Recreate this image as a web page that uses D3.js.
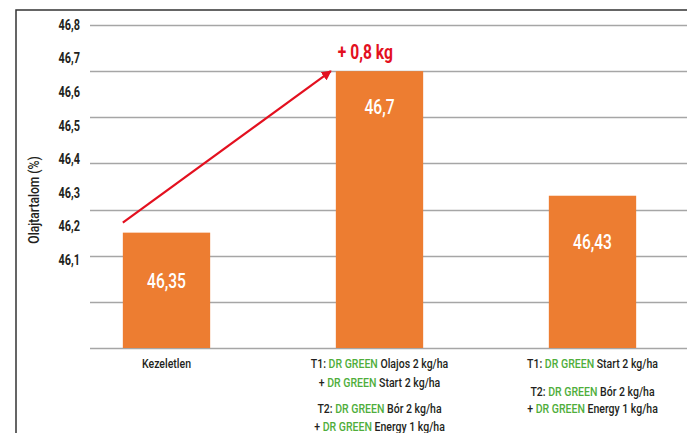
<!DOCTYPE html>
<html>
<head lang="hu">
  <meta charset="utf-8">
  <title>Olajtartalom</title>
  <script src="https://d3js.org/d3.v7.min.js" charset="utf-8"></script>
  <style>
    body { margin: 0; background: #fff; }
    text { font-family: Roboto, "DejaVu Sans", sans-serif; }
  </style>
</head>
<body>
  <script>

    // data
    var categories = ["Kezeletlen", "Olajos+Start", "Start"];
    var values = [46.35, 46.7, 46.43];
    var valueLabels = ["46,35", "46,7", "46,43"];
    var yTicks = [46.1, 46.2, 46.3, 46.4, 46.5, 46.6, 46.7, 46.8];
    var yTitle = "Olajtartalom (%)";
    var gainLabel = "+ 0,8 kg";

    // x labels: each line is a list of [text, isGreen]
    var xLabelLines = [
      [
        [["Kezeletlen", false]]
      ],
      [
        [["T1: ", false], ["DR GREEN", true], [" Olajos 2 kg/ha", false]],
        [["+ ", false], ["DR GREEN", true], [" Start 2 kg/ha", false]],
        [["T2: ", false], ["DR GREEN", true], [" Bór 2 kg/ha", false]],
        [["+ ", false], ["DR GREEN", true], [" Energy 1 kg/ha", false]]
      ],
      [
        [["T1: ", false], ["DR GREEN", true], [" Start 2 kg/ha", false]],
        [["T2: ", false], ["DR GREEN", true], [" Bór 2 kg/ha", false]],
        [["+ ", false], ["DR GREEN", true], [" Energy 1 kg/ha", false]]
      ]
    ];
    var lineOffsets = [
      [0],
      [0, 19, 45, 63],
      [0, 28, 45]
    ];

    var width = 687;
    var height = 433;
    var orange = "#ed7d31";
    var green = "#4fae3c";
    var red = "#e3101f";
    var dark = "#231f20";
    var squeeze = 0.78; // the original uses a condensed face

    var svg = d3.select("body")
      .append("svg")
      .attr("width", width)
      .attr("height", height);

    // condensed text: a group placed at (px,py), squeezed horizontally
    function label(px, py) {
      return svg.append("g")
        .attr("transform", "translate(" + px + "," + py + ") scale(" + squeeze + ",1)")
        .append("text")
          .attr("dy", "0.35em");
    }

    var x = d3.scaleBand()
      .domain(categories)
      .range([60, 699])
      .paddingInner(0.59)
      .paddingOuter(0.295);

    // gridlines and bars share this scale
    var y = d3.scaleLinear()
      .domain([46.1, 46.8])
      .range([348, 25]);

    // the tick labels in the original sit on their own, tighter spacing
    var yLab = d3.scaleLinear()
      .domain([46.1, 46.8])
      .range([260, 25]);

    // frame
    svg.append("path")
      .attr("d", "M16," + height + "V10H" + width)
      .attr("fill", "none")
      .attr("stroke", "#333")
      .attr("stroke-width", 1.5);

    // gridlines
    svg.append("g")
      .selectAll("line")
      .data(yTicks)
      .enter().append("line")
        .attr("x1", 90)
        .attr("x2", width)
        .attr("y1", function(d) { return Math.round(y(d)) + 0.5; })
        .attr("y2", function(d) { return Math.round(y(d)) + 0.5; })
        .attr("stroke", "#a6a6a6")
        .attr("stroke-width", 1.5);

    // tick labels
    yTicks.forEach(function(d) {
      label(80, yLab(d))
        .attr("text-anchor", "end")
        .attr("font-size", 14)
        .attr("font-weight", "bold")
        .attr("fill", dark)
        .text(d3.format(".1f")(d).replace(".", ","));
    });

    svg.append("g")
      .attr("transform", "translate(34,200) rotate(-90) scale(" + squeeze + ",1)")
      .append("text")
        .attr("dy", "0.35em")
        .attr("text-anchor", "middle")
        .attr("font-size", 15.5)
        .attr("font-weight", 500)
        .attr("fill", dark)
        .text(yTitle);

    // bars
    svg.append("g")
      .selectAll("rect")
      .data(values)
      .enter().append("rect")
        .attr("x", function(d, i) { return x(categories[i]); })
        .attr("y", function(d) { return y(d); })
        .attr("width", x.bandwidth())
        .attr("height", function(d) { return y(46.1) - y(d); })
        .attr("fill", orange);

    values.forEach(function(d, i) {
      label(x(categories[i]) + x.bandwidth() / 2, y(d) + 58 - 0.08 * (y(46.1) - y(d)))
        .attr("text-anchor", "middle")
        .attr("font-size", 20)
        .attr("font-weight", 500)
        .attr("fill", "#fff")
        .text(valueLabels[i]);
    });

    // arrow from the untreated bar to the best bar
    svg.append("defs").append("marker")
      .attr("id", "head")
      .attr("viewBox", "0 0 10 10")
      .attr("refX", 9)
      .attr("refY", 5)
      .attr("markerWidth", 4.5)
      .attr("markerHeight", 4.5)
      .attr("markerUnits", "strokeWidth")
      .attr("orient", "auto")
      .append("path")
        .attr("d", "M0,0L10,5L0,10z")
        .attr("fill", red);

    svg.append("line")
      .attr("x1", x(categories[0]))
      .attr("y1", y(values[0]) - 10)
      .attr("x2", x(categories[1]) - 5)
      .attr("y2", y(values[1]))
      .attr("stroke", red)
      .attr("stroke-width", 2.2)
      .attr("marker-end", "url(#head)");

    label(x(categories[1]) + 2, y(values[1]) - 19)
      .attr("font-size", 20)
      .attr("font-weight", "bold")
      .attr("fill", red)
      .text(gainLabel);

    // category labels
    xLabelLines.forEach(function(lines, i) {
      var cx = x(categories[i]) + x.bandwidth() / 2;
      lines.forEach(function(parts, j) {
        var t = label(cx, 363 + lineOffsets[i][j])
          .attr("text-anchor", "middle")
          .attr("font-size", 13.5)
          .attr("font-weight", 500);
        t.selectAll("tspan")
          .data(parts)
          .enter().append("tspan")
            .attr("fill", function(p) { return p[1] ? green : dark; })
            .text(function(p) { return p[0]; });
      });
    });

  </script>
</body>
</html>
